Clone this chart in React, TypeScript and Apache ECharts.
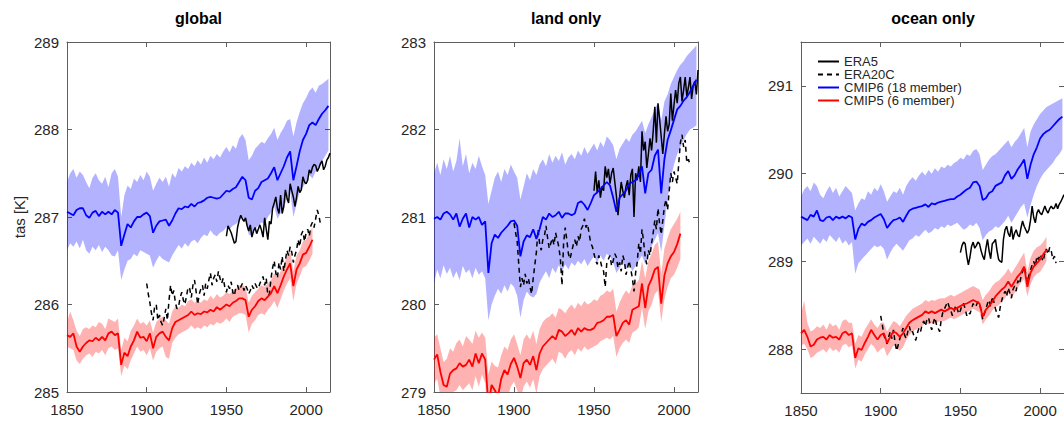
import React, { useEffect, useRef } from "react";
import * as echarts from "echarts";

// ---------- axis ticks / titles ----------
const panelTitles = ["global", "land only", "ocean only"];
const yAxisTitle = "tas [K]";
const xTicks = [1850, 1900, 1950, 2000];
const yTicksGlobal = [285, 286, 287, 288, 289];
const yTicksLand = [279, 280, 281, 282, 283];
const yTicksOcean = [288, 289, 290, 291];
const legendNames = ["ERA5", "ERA20C", "CMIP6 (18 member)", "CMIP5 (6 member)"];

// CMIP series: every 2 years starting 1850; ERA5 annual from 1950; ERA20C annual from 1900
const cmipStart = 1850;
const cmipStep = 2;
const era5Start = 1950;
const era20cStart = 1900;

// ---------- GLOBAL ----------
const g6Mean = [
  287.06, 287.04, 287.02, 287.08, 287.10, 287.10, 287.02, 286.99, 287.05, 287.07,
  287.01, 287.06, 287.03, 287.06, 287.03, 287.08, 287.05, 286.67, 286.80, 286.92,
  286.88, 286.95, 287.00, 287.00, 287.03, 287.05, 287.01, 286.82, 286.90, 286.95,
  286.96, 286.97, 286.90, 286.96, 287.04, 287.10, 287.09, 287.12, 287.11, 287.15,
  287.12, 287.16, 287.17, 287.19, 287.22, 287.23, 287.22, 287.21, 287.22, 287.26,
  287.30, 287.29, 287.32, 287.34, 287.40, 287.46, 287.42, 287.22, 287.20, 287.30,
  287.33, 287.40, 287.42, 287.44, 287.50, 287.57, 287.42, 287.50, 287.58, 287.68,
  287.75, 287.42, 287.58, 287.75, 287.88, 287.95, 288.05, 288.08, 288.05, 288.12,
  288.18, 288.22, 288.27,
];
const g6Hi = [
  287.40, 287.50, 287.55, 287.45, 287.52, 287.48, 287.40, 287.33, 287.45, 287.50,
  287.42, 287.38, 287.46, 287.34, 287.50, 287.55, 287.46, 287.00, 287.25, 287.36,
  287.32, 287.44, 287.40, 287.48, 287.42, 287.52, 287.46, 287.30, 287.38, 287.45,
  287.40, 287.46, 287.35, 287.50, 287.45, 287.56, 287.52, 287.58, 287.55, 287.62,
  287.58, 287.65, 287.60, 287.68, 287.62, 287.70, 287.66, 287.72, 287.68, 287.75,
  287.80, 287.74, 287.82, 287.78, 287.90, 287.95, 287.88, 287.65, 287.70, 287.78,
  287.82, 287.86, 287.84, 287.90, 287.95, 288.02, 287.88, 287.96, 288.02, 288.10,
  288.12, 287.92, 288.08, 288.20, 288.30, 288.36, 288.44, 288.48, 288.42, 288.50,
  288.52, 288.55, 288.58,
];
const g6Lo = [
  286.62, 286.70, 286.66, 286.72, 286.64, 286.74, 286.62, 286.58, 286.66, 286.62,
  286.68, 286.60, 286.66, 286.62, 286.56, 286.55, 286.62, 286.28, 286.40, 286.50,
  286.52, 286.58, 286.55, 286.62, 286.60, 286.58, 286.56, 286.42, 286.50, 286.56,
  286.52, 286.50, 286.48, 286.56, 286.62, 286.68, 286.64, 286.70, 286.66, 286.72,
  286.74, 286.70, 286.76, 286.80, 286.78, 286.85, 286.80, 286.78, 286.82, 286.84,
  286.88, 286.86, 286.90, 286.92, 286.96, 287.00, 286.96, 286.80, 286.78, 286.86,
  286.90, 286.94, 286.92, 287.00, 287.05, 287.12, 286.98, 287.04, 287.12, 287.20,
  287.30, 287.00, 287.14, 287.30, 287.34, 287.40, 287.48, 287.44, 287.52, 287.56,
  287.64, 287.70, 287.76,
];
const g5Mean = [
  285.65, 285.63, 285.67, 285.52, 285.46, 285.52, 285.56, 285.59, 285.58, 285.62,
  285.59, 285.63, 285.59, 285.67, 285.69, 285.65, 285.67, 285.31, 285.45, 285.41,
  285.52, 285.59, 285.69, 285.62, 285.63, 285.58, 285.67, 285.50, 285.63, 285.67,
  285.69, 285.63, 285.59, 285.73, 285.80, 285.82, 285.84, 285.86, 285.88, 285.92,
  285.88, 285.90, 285.89, 285.92, 285.91, 285.94, 285.92, 285.97, 285.94, 285.97,
  286.00, 285.98, 286.02, 286.04, 286.07, 286.07, 286.05, 285.86, 285.94, 285.98,
  286.04, 286.07, 286.05, 286.09, 286.13, 286.21, 286.13, 286.22, 286.32, 286.40,
  286.47, 286.21, 286.40, 286.47, 286.57, 286.59, 286.66, 286.74,
];
const g5Hi = [
  285.80, 285.92, 285.82, 285.70, 285.64, 285.72, 285.74, 285.72, 285.76, 285.74,
  285.80, 285.78, 285.72, 285.84, 285.82, 285.80, 285.84, 285.48, 285.62, 285.58,
  285.70, 285.76, 285.84, 285.78, 285.80, 285.76, 285.82, 285.68, 285.80, 285.84,
  285.86, 285.82, 285.78, 285.92, 285.98, 285.96, 286.00, 285.98, 286.04, 286.06,
  286.02, 286.04, 286.02, 286.06, 286.04, 286.10, 286.06, 286.12, 286.08, 286.10,
  286.14, 286.12, 286.16, 286.18, 286.22, 286.22, 286.20, 286.02, 286.10, 286.14,
  286.18, 286.22, 286.20, 286.24, 286.28, 286.36, 286.30, 286.38, 286.46, 286.54,
  286.62, 286.38, 286.56, 286.62, 286.72, 286.74, 286.82, 286.88,
];
const g5Lo = [
  285.52, 285.50, 285.48, 285.36, 285.32, 285.38, 285.42, 285.44, 285.40, 285.46,
  285.44, 285.48, 285.42, 285.50, 285.52, 285.48, 285.50, 285.18, 285.30, 285.26,
  285.36, 285.44, 285.52, 285.46, 285.48, 285.42, 285.50, 285.36, 285.46, 285.50,
  285.52, 285.40, 285.38, 285.56, 285.62, 285.66, 285.68, 285.70, 285.72, 285.76,
  285.72, 285.74, 285.72, 285.76, 285.74, 285.78, 285.76, 285.80, 285.78, 285.80,
  285.84, 285.80, 285.86, 285.88, 285.90, 285.90, 285.88, 285.68, 285.78, 285.82,
  285.88, 285.90, 285.88, 285.94, 285.98, 286.04, 285.96, 286.06, 286.16, 286.24,
  286.30, 286.04, 286.24, 286.32, 286.42, 286.44, 286.50, 286.58,
];
const era5Global = [
  286.78, 286.90, 286.86, 286.82, 286.76, 286.70, 286.72, 286.88, 286.96, 287.02,
  286.98, 286.95, 286.99, 286.90, 286.84, 286.91, 286.77, 286.84, 286.88, 286.81,
  286.86, 286.91, 286.85, 286.77, 286.99, 286.86, 286.74, 286.95, 286.92, 287.10,
  287.16, 287.23, 287.10, 287.04, 287.25, 287.04, 287.12, 287.31, 287.22, 287.16,
  287.38, 287.30, 287.23, 287.12, 287.22, 287.35, 287.28, 287.31, 287.46, 287.40,
  287.38, 287.42, 287.54, 287.50, 287.57, 287.60, 287.59, 287.52, 287.56, 287.61,
  287.64, 287.54, 287.58, 287.65, 287.68, 287.73,
];
const era20cGlobal = [
  286.24, 286.12, 286.02, 285.90, 285.82, 285.98, 286.00, 285.82, 285.88, 285.80,
  285.76, 285.85, 285.95, 285.82, 286.05, 286.22, 286.10, 286.16, 286.02, 285.95,
  285.98, 286.08, 286.14, 286.05, 286.00, 286.10, 286.20, 286.18, 286.08, 286.22,
  286.28, 286.15, 286.00, 286.12, 286.18, 286.22, 286.10, 286.24, 286.18, 286.28,
  286.36, 286.22, 286.30, 286.34, 286.26, 286.38, 286.30, 286.24, 286.30, 286.20,
  286.14, 286.22, 286.18, 286.26, 286.14, 286.10, 286.20, 286.22, 286.16, 286.20,
  286.24, 286.16, 286.22, 286.18, 286.12, 286.16, 286.22, 286.18, 286.24, 286.20,
  286.18, 286.24, 286.28, 286.32, 286.22, 286.30, 286.10, 286.12, 286.30, 286.42,
  286.50, 286.36, 286.30, 286.48, 286.40, 286.55, 286.38, 286.50, 286.62, 286.56,
  286.66, 286.60, 286.48, 286.56, 286.62, 286.74, 286.66, 286.80, 286.84, 286.72,
  286.82, 286.86, 286.78, 286.90, 286.94, 286.88, 286.98, 287.08, 287.02, 286.92,
  286.94,
];

// ---------- LAND ----------
const l6Mean = [
  280.98, 281.00, 280.97, 281.04, 281.06, 281.03, 280.97, 281.04, 280.89, 280.98,
  281.04, 280.88, 281.00, 280.97, 281.00, 280.91, 280.95, 280.36, 280.70, 280.80,
  280.76, 280.82, 280.86, 280.90, 280.95, 280.96, 280.90, 280.55, 280.72, 280.79,
  280.77, 280.86, 280.75, 280.86, 281.00, 280.97, 281.04, 281.00, 281.02, 281.06,
  280.99, 281.04, 281.04, 281.02, 281.04, 281.16, 281.18, 281.14, 281.08, 281.16,
  281.25, 281.28, 281.32, 281.36, 281.40, 281.36, 281.22, 281.06, 281.22, 281.26,
  281.30, 281.38, 281.40, 281.42, 281.48, 281.58, 281.27, 281.50, 281.54, 281.70,
  281.77, 281.27, 281.66, 281.88, 281.99, 282.11, 282.23, 282.27, 282.33, 282.37,
  282.43, 282.50, 282.57,
];
const l6Hi = [
  281.50, 281.62, 281.48, 281.66, 281.55, 281.70, 281.52, 281.64, 281.90, 281.58,
  281.72, 281.50, 281.62, 281.55, 281.70, 281.58, 281.48, 281.15, 281.30, 281.45,
  281.52, 281.40, 281.55, 281.48, 281.60, 281.52, 281.45, 281.20, 281.35, 281.50,
  281.42, 281.55, 281.48, 281.60, 281.66, 281.58, 281.72, 281.62, 281.70, 281.64,
  281.74, 281.60, 281.68, 281.72, 281.66, 281.76, 281.70, 281.80, 281.72, 281.78,
  281.84, 281.76, 281.86, 281.80, 281.92, 281.88, 281.82, 281.66, 281.78, 281.84,
  281.90, 281.86, 281.94, 281.98, 282.04, 282.10, 281.96, 282.06, 282.14, 282.24,
  282.30, 282.10, 282.32, 282.40, 282.52, 282.60, 282.68, 282.74, 282.78, 282.84,
  282.88, 282.92, 282.96,
];
const l6Lo = [
  280.24, 280.40, 280.30, 280.45, 280.35, 280.42, 280.30, 280.38, 280.28, 280.44,
  280.36, 280.40, 280.30, 280.42, 280.34, 280.38, 280.30, 279.82, 280.00, 280.10,
  280.18, 280.12, 280.22, 280.15, 280.24, 280.20, 280.10, 279.85, 280.05, 280.15,
  280.10, 280.08, 280.12, 280.25, 280.32, 280.38, 280.30, 280.42, 280.36, 280.45,
  280.38, 280.46, 280.40, 280.48, 280.44, 280.50, 280.46, 280.52, 280.44, 280.50,
  280.55, 280.48, 280.56, 280.50, 280.58, 280.55, 280.48, 280.36, 280.42, 280.48,
  280.40, 280.46, 280.38, 280.44, 280.50, 280.56, 280.46, 280.58, 280.66, 280.74,
  280.82, 280.60, 280.90, 281.20, 281.45, 281.60, 281.72, 281.80, 281.88, 281.95,
  282.00, 282.02, 282.05,
];
const l5Mean = [
  279.37, 279.43, 279.23, 279.08, 279.06, 279.21, 279.25, 279.27, 279.33, 279.29,
  279.31, 279.37, 279.29, 279.44, 279.33, 279.44, 279.37, 278.85, 279.08, 279.02,
  278.95, 279.15, 279.25, 279.20, 279.32, 279.39, 279.29, 279.16, 279.33, 279.37,
  279.31, 279.41, 279.25, 279.44, 279.52, 279.56, 279.60, 279.64, 279.60, 279.71,
  279.69, 279.64, 279.67, 279.71, 279.65, 279.73, 279.69, 279.73, 279.71, 279.71,
  279.73, 279.79, 279.80, 279.82, 279.86, 279.86, 279.88, 279.64, 279.71, 279.79,
  279.82, 279.77, 279.94, 279.96, 279.98, 280.24, 279.96, 280.21, 280.29, 280.40,
  280.43, 280.01, 280.33, 280.47, 280.55, 280.60, 280.69, 280.81,
];
const l5Hi = [
  279.62, 279.66, 279.50, 279.34, 279.38, 279.50, 279.46, 279.56, 279.60, 279.52,
  279.64, 279.60, 279.55, 279.70, 279.62, 279.68, 279.62, 279.20, 279.35, 279.30,
  279.28, 279.42, 279.52, 279.48, 279.60, 279.66, 279.55, 279.42, 279.60, 279.66,
  279.60, 279.70, 279.55, 279.72, 279.80, 279.84, 279.86, 279.90, 279.85, 279.96,
  279.94, 279.90, 279.96, 280.00, 279.95, 280.02, 279.98, 280.04, 280.00, 280.02,
  280.06, 280.04, 280.10, 280.12, 280.16, 280.14, 280.18, 279.92, 280.02, 280.10,
  280.16, 280.12, 280.22, 280.24, 280.28, 280.50, 280.30, 280.50, 280.58, 280.68,
  280.72, 280.35, 280.64, 280.76, 280.86, 280.92, 280.98, 281.06,
];
const l5Lo = [
  279.10, 279.15, 278.95, 278.82, 278.80, 278.95, 279.00, 279.02, 279.08, 279.02,
  279.06, 279.10, 279.02, 279.18, 279.06, 279.20, 279.10, 278.55, 278.80, 278.72,
  278.70, 278.88, 279.00, 278.94, 279.06, 279.12, 279.02, 278.90, 279.06, 279.12,
  279.05, 279.15, 278.98, 279.18, 279.26, 279.30, 279.34, 279.38, 279.32, 279.46,
  279.44, 279.38, 279.45, 279.48, 279.42, 279.50, 279.46, 279.52, 279.48, 279.50,
  279.52, 279.54, 279.58, 279.60, 279.62, 279.60, 279.64, 279.40, 279.50, 279.56,
  279.60, 279.56, 279.68, 279.70, 279.74, 279.96, 279.72, 279.92, 280.00, 280.12,
  280.16, 279.80, 280.06, 280.20, 280.30, 280.34, 280.42, 280.52,
];
const era5Land = [
  281.30, 281.52, 281.28, 281.42, 281.22, 281.35, 281.30, 281.58, 281.45, 281.55,
  281.38, 281.50, 281.56, 281.40, 281.24, 281.02, 281.22, 281.40, 281.30, 281.22,
  281.35, 281.42, 281.25, 281.48, 281.55, 281.00, 281.50, 281.42, 281.58, 281.40,
  281.98, 281.76, 281.86, 281.56, 281.72, 281.90, 281.76, 281.98, 282.26, 281.85,
  282.30, 282.12, 281.92, 281.72, 281.95, 282.15, 281.98, 282.06, 282.41, 282.10,
  282.28, 282.45, 282.30, 282.53, 282.60, 282.32, 282.45, 282.60, 282.38, 282.48,
  282.60, 282.35, 282.50, 282.55, 282.40, 282.68,
];
const era20cLand = [
  280.93, 280.82, 280.72, 280.45, 280.20, 280.30, 280.22, 280.35, 280.24, 280.30,
  280.20, 280.12, 280.30, 280.45, 280.60, 280.86, 280.70, 280.62, 280.74, 280.78,
  280.90, 280.76, 280.64, 280.70, 280.76, 280.68, 280.82, 280.74, 280.66, 280.52,
  280.22, 280.70, 280.88, 280.74, 280.58, 280.52, 280.60, 280.68, 280.74, 280.66,
  280.78, 280.72, 280.86, 280.90, 280.98, 280.88, 280.92, 280.80, 280.70, 280.66,
  280.58, 280.50, 280.46, 280.56, 280.50, 280.42, 280.38, 280.20, 280.48, 280.52,
  280.56, 280.44, 280.50, 280.58, 280.54, 280.42, 280.48, 280.38, 280.56, 280.50,
  280.34, 280.42, 280.50, 280.40, 280.30, 280.15, 280.36, 280.48, 280.70, 280.58,
  280.86, 280.72, 280.54, 280.46, 280.62, 280.56, 280.70, 280.82, 280.96, 280.86,
  281.10, 280.92, 280.80, 280.96, 281.12, 281.20, 281.08, 281.30, 281.50, 281.40,
  281.52, 281.45, 281.38, 281.62, 281.85, 281.94, 281.80, 281.88, 281.62, 281.66,
  281.60,
];

// ---------- OCEAN ----------
const o6Mean = [
  289.51, 289.49, 289.47, 289.53, 289.51, 289.58, 289.47, 289.46, 289.50, 289.51,
  289.47, 289.51, 289.49, 289.51, 289.49, 289.52, 289.50, 289.25, 289.37, 289.43,
  289.41, 289.45, 289.47, 289.50, 289.52, 289.54, 289.48, 289.38, 289.43, 289.47,
  289.48, 289.50, 289.45, 289.52, 289.58, 289.60, 289.61, 289.62, 289.63, 289.65,
  289.62, 289.66, 289.65, 289.67, 289.68, 289.69, 289.70, 289.71, 289.71, 289.74,
  289.76, 289.79, 289.82, 289.84, 289.90, 289.91, 289.86, 289.70, 289.72, 289.78,
  289.80, 289.86, 289.88, 289.90, 289.98, 290.03, 289.94, 289.98, 290.05, 290.10,
  290.16, 289.94, 290.10, 290.22, 290.30, 290.40, 290.45, 290.48, 290.50, 290.54,
  290.58, 290.62, 290.65,
];
const o6Hi = [
  289.74, 289.82, 289.86, 289.80, 289.90, 289.86, 289.76, 289.72, 289.80, 289.86,
  289.78, 289.84, 289.74, 289.80, 289.86, 289.82, 289.78, 289.58, 289.66, 289.72,
  289.70, 289.80, 289.76, 289.84, 289.80, 289.88, 289.80, 289.68, 289.74, 289.80,
  289.78, 289.84, 289.76, 289.86, 289.92, 289.96, 289.92, 289.98, 290.02, 289.98,
  290.04, 290.00, 290.06, 290.02, 290.08, 290.06, 290.10, 290.08, 290.12, 290.14,
  290.18, 290.16, 290.22, 290.20, 290.26, 290.28, 290.22, 290.04, 290.10, 290.16,
  290.20, 290.22, 290.26, 290.30, 290.34, 290.38, 290.30, 290.36, 290.40, 290.46,
  290.52, 290.30, 290.48, 290.56, 290.62, 290.68, 290.72, 290.76, 290.78, 290.80,
  290.82, 290.84, 290.86,
];
const o6Lo = [
  289.18, 289.22, 289.26, 289.20, 289.28, 289.24, 289.20, 289.26, 289.22, 289.30,
  289.26, 289.22, 289.28, 289.20, 289.24, 289.18, 289.22, 288.86, 288.98, 289.02,
  289.06, 289.10, 289.14, 289.18, 289.16, 289.18, 289.14, 289.02, 289.10, 289.16,
  289.20, 289.16, 289.12, 289.18, 289.24, 289.26, 289.30, 289.28, 289.32, 289.36,
  289.32, 289.34, 289.38, 289.36, 289.40, 289.38, 289.42, 289.40, 289.42, 289.44,
  289.40, 289.36, 289.38, 289.42, 289.40, 289.44, 289.38, 289.24, 289.30, 289.34,
  289.36, 289.40, 289.38, 289.42, 289.46, 289.52, 289.44, 289.50, 289.56, 289.62,
  289.66, 289.50, 289.64, 289.76, 289.86, 289.94, 290.00, 290.04, 290.08, 290.12,
  290.18, 290.22, 290.28,
];
const o5Mean = [
  288.18, 288.22, 288.14, 288.03, 288.05, 288.11, 288.13, 288.14, 288.11, 288.16,
  288.13, 288.14, 288.11, 288.18, 288.20, 288.16, 288.18, 287.90, 288.01, 287.99,
  288.07, 288.14, 288.22, 288.16, 288.11, 288.16, 288.18, 288.07, 288.14, 288.20,
  288.18, 288.14, 288.18, 288.24, 288.30, 288.33, 288.35, 288.37, 288.39, 288.43,
  288.41, 288.43, 288.41, 288.43, 288.45, 288.43, 288.45, 288.47, 288.45, 288.47,
  288.49, 288.51, 288.52, 288.54, 288.56, 288.54, 288.52, 288.37, 288.45, 288.49,
  288.54, 288.60, 288.64, 288.68, 288.71, 288.77, 288.71, 288.77, 288.83, 288.87,
  288.94, 288.71, 288.87, 288.94, 288.98, 289.02, 289.08, 289.13,
];
const o5Hi = [
  288.40, 288.55, 288.30, 288.20, 288.22, 288.26, 288.24, 288.28, 288.22, 288.30,
  288.26, 288.28, 288.22, 288.32, 288.34, 288.30, 288.30, 288.06, 288.16, 288.14,
  288.22, 288.28, 288.34, 288.28, 288.24, 288.30, 288.30, 288.20, 288.26, 288.32,
  288.30, 288.26, 288.32, 288.38, 288.42, 288.46, 288.48, 288.50, 288.52, 288.56,
  288.54, 288.56, 288.55, 288.57, 288.58, 288.58, 288.60, 288.62, 288.60, 288.62,
  288.64, 288.66, 288.68, 288.70, 288.72, 288.70, 288.68, 288.56, 288.62, 288.66,
  288.72, 288.76, 288.78, 288.82, 288.86, 288.92, 288.86, 288.92, 288.98, 289.04,
  289.10, 288.88, 289.04, 289.12, 289.16, 289.18, 289.22, 289.28,
];
const o5Lo = [
  288.04, 288.06, 288.00, 287.90, 287.92, 287.96, 287.98, 288.00, 287.96, 288.02,
  287.98, 288.00, 287.96, 288.04, 288.06, 288.02, 288.04, 287.78, 287.88, 287.86,
  287.94, 288.00, 288.06, 288.02, 287.96, 288.00, 288.02, 287.92, 287.98, 288.04,
  288.02, 287.98, 288.02, 288.10, 288.16, 288.20, 288.22, 288.24, 288.26, 288.30,
  288.28, 288.30, 288.29, 288.31, 288.32, 288.32, 288.34, 288.36, 288.34, 288.36,
  288.38, 288.40, 288.42, 288.44, 288.46, 288.44, 288.42, 288.28, 288.34, 288.38,
  288.44, 288.48, 288.50, 288.54, 288.58, 288.64, 288.58, 288.64, 288.70, 288.76,
  288.80, 288.60, 288.74, 288.82, 288.86, 288.88, 288.94, 289.00,
];
const era5Ocean = [
  289.10, 289.18, 289.22, 289.20, 289.06, 288.96, 289.05, 289.17, 289.22, 289.15,
  289.18, 289.22, 289.20, 289.12, 289.06, 289.02, 289.15, 289.25, 289.12, 289.03,
  289.20, 289.22, 289.25, 289.12, 289.02, 289.00, 288.99, 289.25, 289.36, 289.40,
  289.32, 289.28, 289.40, 289.25, 289.32, 289.36, 289.30, 289.28, 289.38, 289.46,
  289.40, 289.36, 289.32, 289.36, 289.47, 289.63, 289.50, 289.44, 289.55, 289.59,
  289.55, 289.53, 289.58, 289.63, 289.58, 289.55, 289.60, 289.63, 289.60, 289.61,
  289.66, 289.60, 289.65, 289.68, 289.72, 289.76,
];
const era20cOcean = [
  288.38, 288.28, 288.16, 288.10, 288.06, 288.14, 288.20, 288.12, 288.22, 288.08,
  287.98, 288.05, 288.12, 288.18, 288.24, 288.16, 288.12, 288.20, 288.26, 288.18,
  288.20, 288.14, 288.10, 288.18, 288.24, 288.20, 288.28, 288.32, 288.26, 288.34,
  288.36, 288.28, 288.22, 288.30, 288.36, 288.28, 288.24, 288.20, 288.34, 288.42,
  288.46, 288.50, 288.54, 288.48, 288.44, 288.38, 288.42, 288.50, 288.46, 288.40,
  288.44, 288.50, 288.52, 288.46, 288.38, 288.42, 288.40, 288.46, 288.52, 288.48,
  288.50, 288.54, 288.52, 288.44, 288.34, 288.40, 288.46, 288.52, 288.56, 288.48,
  288.60, 288.54, 288.46, 288.40, 288.36, 288.48, 288.56, 288.62, 288.66, 288.60,
  288.70, 288.64, 288.58, 288.68, 288.72, 288.66, 288.78, 288.74, 288.82, 288.88,
  288.94, 288.86, 288.76, 288.84, 288.90, 288.96, 289.00, 288.94, 289.06, 289.02,
  289.08, 289.04, 289.00, 289.10, 289.14, 289.08, 289.16, 289.12, 289.02, 289.06,
  288.98,
];

// ---------- layout / style ----------
const FONT = '"Liberation Sans", Arial, Helvetica, sans-serif';
const AXIS_COLOR = "#5e5e5e";
const LABEL_COLOR = "#262626";
const BLUE = "#0000ff";
const RED = "#ff0000";

const toPairs = (start: number, step: number, vals: number[]) =>
  vals.map((v, i) => [start + i * step, v]);

type Panel = {
  title: string;
  yMin: number;
  yMax: number;
  yTicks: number[];
  c6: number[][];
  c5: number[][];
  era5: number[];
  era20c: number[];
};

const panels: Panel[] = [
  { title: panelTitles[0], yMin: 285, yMax: 289, yTicks: yTicksGlobal, c6: [g6Lo, g6Mean, g6Hi], c5: [g5Lo, g5Mean, g5Hi], era5: era5Global, era20c: era20cGlobal },
  { title: panelTitles[1], yMin: 279, yMax: 283, yTicks: yTicksLand, c6: [l6Lo, l6Mean, l6Hi], c5: [l5Lo, l5Mean, l5Hi], era5: era5Land, era20c: era20cLand },
  { title: panelTitles[2], yMin: 287.5, yMax: 291.5, yTicks: yTicksOcean, c6: [o6Lo, o6Mean, o6Hi], c5: [o5Lo, o5Mean, o5Hi], era5: era5Ocean, era20c: era20cOcean },
];

const gridBoxes = [
  { left: 67, top: 42, width: 263, height: 350 },
  { left: 434, top: 42, width: 264, height: 350 },
  { left: 801, top: 42, width: 264, height: 351 },
];

function bandSeries(gi: number, lo: number[], hi: number[], color: string, key: string) {
  const n = Math.min(lo.length, hi.length);
  const data: number[][] = [];
  for (let i = 0; i < n; i++) data.push([cmipStart + i * cmipStep, lo[i], hi[i]]);
  return {
    type: "custom",
    name: key,
    xAxisIndex: gi,
    yAxisIndex: gi,
    silent: true,
    encode: { x: 0, y: [1, 2] },
    data,
    renderItem: (params: any, api: any) => {
      if (params.dataIndex !== 0) return null;
      const pts: number[][] = [];
      for (let i = 0; i < n; i++) pts.push(api.coord([data[i][0], data[i][2]]));
      for (let i = n - 1; i >= 0; i--) pts.push(api.coord([data[i][0], data[i][1]]));
      const cs = params.coordSys;
      return {
        type: "group",
        clipPath: { type: "rect", shape: { x: cs.x, y: cs.y, width: cs.width, height: cs.height } },
        children: [
          {
            type: "polygon",
            shape: { points: pts },
            style: { fill: color, opacity: 0.3, stroke: "none" },
          },
        ],
      };
    },
  };
}

function buildOption() {
  const grid: any[] = [];
  const xAxis: any[] = [];
  const yAxis: any[] = [];
  const series: any[] = [];
  const graphic: any[] = [];
  const tickStyle = { color: AXIS_COLOR, width: 1 };

  panels.forEach((p, gi) => {
    const g = gridBoxes[gi];
    grid.push({ ...g, containLabel: false, show: false });
    xAxis.push({
      type: "value", gridIndex: gi, min: 1850, max: 2015, position: "bottom",
      axisLine: { show: true, lineStyle: tickStyle },
      axisTick: { show: true, inside: true, length: 5, customValues: xTicks, lineStyle: tickStyle },
      axisLabel: { show: true, customValues: xTicks, margin: 10, fontSize: 15, color: LABEL_COLOR, fontFamily: FONT, formatter: (v: number) => String(v) },
      splitLine: { show: false },
    });
    yAxis.push({
      type: "value", gridIndex: gi, min: p.yMin, max: p.yMax, position: "left",
      axisLine: { show: true, lineStyle: tickStyle },
      axisTick: { show: true, inside: true, length: 5, customValues: p.yTicks, lineStyle: tickStyle },
      axisLabel: { show: true, customValues: p.yTicks, margin: 8, fontSize: 15, color: LABEL_COLOR, fontFamily: FONT, formatter: (v: number) => String(v) },
      splitLine: { show: false },
    });

    const common = { type: "line", symbol: "none", showSymbol: false, xAxisIndex: gi, yAxisIndex: gi, silent: true, clip: true };
    series.push({ ...common, name: legendNames[0], data: toPairs(era5Start, 1, p.era5), lineStyle: { color: "#000", width: 1.5 }, itemStyle: { color: "#000" } });
    series.push({ ...common, name: legendNames[1], data: toPairs(era20cStart, 1, p.era20c), lineStyle: { color: "#000", width: 1.5, type: [5, 4] }, itemStyle: { color: "#000" } });
    series.push(bandSeries(gi, p.c6[0], p.c6[2], BLUE, "_band6_" + gi));
    series.push(bandSeries(gi, p.c5[0], p.c5[2], RED, "_band5_" + gi));
    series.push({ ...common, name: legendNames[2], data: toPairs(cmipStart, cmipStep, p.c6[1]), lineStyle: { color: BLUE, width: 1.8 }, itemStyle: { color: BLUE } });
    series.push({ ...common, name: legendNames[3], data: toPairs(cmipStart, cmipStep, p.c5[1]), lineStyle: { color: RED, width: 1.8 }, itemStyle: { color: RED } });

    graphic.push({
      type: "text", x: g.left + g.width / 2, y: 18, silent: true,
      style: { text: p.title, font: `bold 16px ${FONT}`, fill: "#000", align: "center", verticalAlign: "middle", textAlign: "center", textVerticalAlign: "middle" },
    });
  });

  // mirror axes (top / right) carrying only inward ticks, like a boxed plot
  panels.forEach((p, gi) => {
    xAxis.push({
      type: "value", gridIndex: gi, min: 1850, max: 2015, position: "top",
      axisLine: { show: true, lineStyle: tickStyle },
      axisTick: { show: true, inside: true, length: 5, customValues: xTicks, lineStyle: tickStyle },
      axisLabel: { show: false },
      splitLine: { show: false },
    });
    yAxis.push({
      type: "value", gridIndex: gi, min: p.yMin, max: p.yMax, position: "right",
      axisLine: { show: true, lineStyle: tickStyle },
      axisTick: { show: true, inside: true, length: 5, customValues: p.yTicks, lineStyle: tickStyle },
      axisLabel: { show: false },
      splitLine: { show: false },
    });
  });

  graphic.push({
    type: "text", x: 19, y: 217, rotation: Math.PI / 2, silent: true,
    style: { text: yAxisTitle, font: `15px ${FONT}`, fill: LABEL_COLOR, align: "center", verticalAlign: "middle", textAlign: "center", textVerticalAlign: "middle" },
  });

  return {
    animation: false,
    backgroundColor: "#ffffff",
    grid,
    xAxis,
    yAxis,
    series,
    graphic,
    legend: {
      data: legendNames,
      orient: "vertical",
      left: 817,
      top: 55,
      padding: 0,
      itemGap: 0,
      itemWidth: 21,
      itemHeight: 10,
      selectedMode: false,
      itemStyle: { opacity: 0 },
      textStyle: { fontSize: 13, lineHeight: 12.7, color: LABEL_COLOR, fontFamily: FONT },
    },
  };
}

export default function App() {
  const ref = useRef<HTMLDivElement>(null);
  useEffect(() => {
    if (!ref.current) return;
    const chart = echarts.init(ref.current, null, { renderer: "svg" });
    chart.setOption(buildOption() as any);
    return () => chart.dispose();
  }, []);
  return (
    <div
      ref={ref}
      style={{ position: "fixed", left: 0, top: 0, width: 1064, height: 423, background: "#fff" }}
    />
  );
}
